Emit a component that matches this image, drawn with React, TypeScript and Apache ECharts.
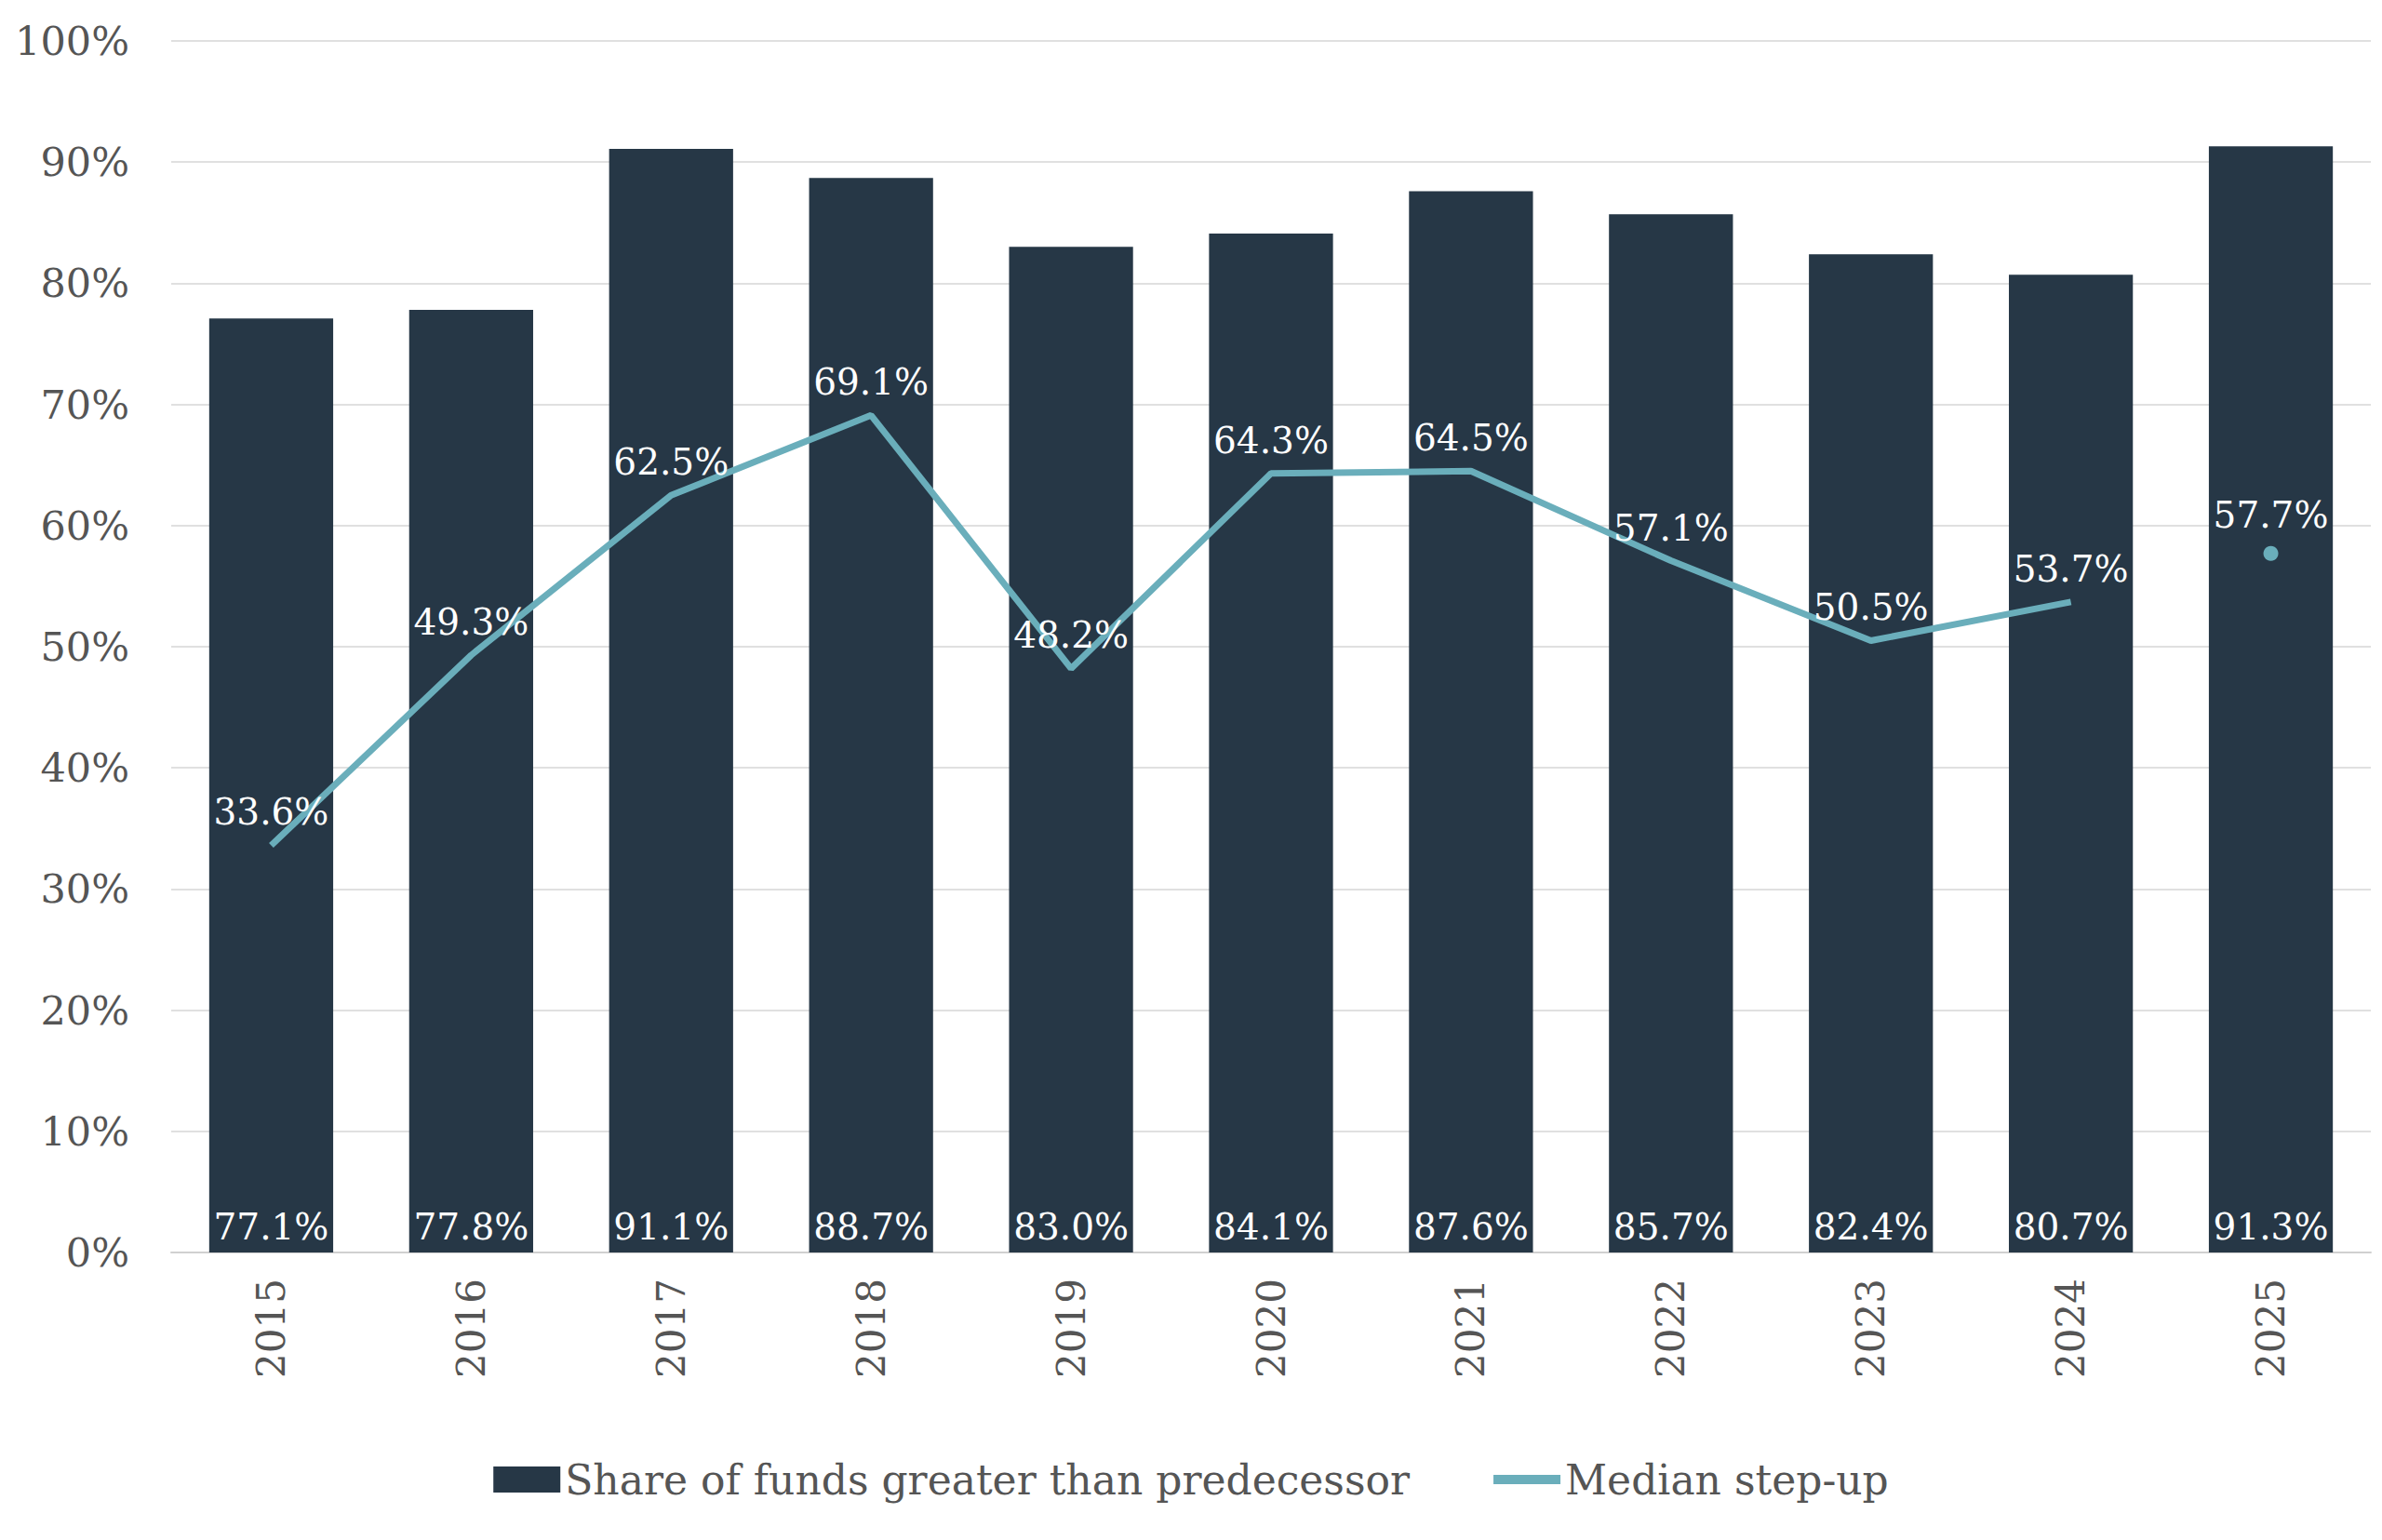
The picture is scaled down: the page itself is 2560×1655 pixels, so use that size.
import React, { useEffect, useRef } from "react";
import * as echarts from "echarts";

const years = ["2015","2016","2017","2018","2019","2020","2021","2022","2023","2024","2025"];
const shareGreater = [77.1, 77.8, 91.1, 88.7, 83.0, 84.1, 87.6, 85.7, 82.4, 80.7, 91.3];
const medianStepUp = [33.6, 49.3, 62.5, 69.1, 48.2, 64.3, 64.5, 57.1, 50.5, 53.7, null];
const medianLatest = [null, null, null, null, null, null, null, null, null, null, 57.7];

const FONT = "DejaVu Serif";

export default function App() {
  const ref = useRef<HTMLDivElement>(null);
  useEffect(() => {
    const chart = echarts.init(ref.current!, null, { renderer: "svg" });
    const lbl = {
      show: true, position: "top", color: "#ffffff", fontFamily: FONT, fontSize: 39,
      formatter: (p: any) => p.value == null ? "" : Number(p.value).toFixed(1) + "%",
    };
    chart.setOption({
      animation: false,
      textStyle: { fontFamily: FONT },
      grid: { left: 176, right: 4, top: 36, bottom: 1655 - 1346 - 8 },
      legend: {
        bottom: 30, left: "center", itemGap: 90, itemWidth: 72, itemHeight: 28,
        textStyle: { fontFamily: FONT, fontSize: 44, color: "#555" },
        data: [
          { name: "Share of funds greater than predecessor", icon: "rect" },
          { name: "Median step-up", icon: "path://M0,0 L10,0 L10,1.4 L0,1.4 Z" },
        ],
      },
      xAxis: {
        type: "category", data: years,
        axisTick: { show: false },
        axisLine: { lineStyle: { color: "#d0d0d0", width: 2 } },
        axisLabel: { rotate: 90, fontFamily: FONT, fontSize: 42, color: "#555", margin: 28 },
      },
      yAxis: {
        type: "value", min: 0, max: 100, interval: 10,
        axisLabel: { formatter: "{value}%", fontFamily: FONT, fontSize: 43, color: "#555", margin: 45 },
        splitLine: { lineStyle: { color: "#e0e0e0", width: 2 } },
      },
      series: [
        {
          name: "Share of funds greater than predecessor", type: "bar", data: shareGreater,
          barWidth: "62%", itemStyle: { color: "#263746" },
          label: { ...lbl, position: "insideBottom", distance: 8 },
        },
        {
          name: "Median step-up", type: "line", data: medianStepUp, showSymbol: true,
          symbol: "circle", symbolSize: 0.1, lineStyle: { color: "#6aaebb", width: 7 }, itemStyle: { color: "#6aaebb" },
          label: { ...lbl, distance: 16 },
        },
        {
          name: "Median latest", type: "line", data: medianLatest, symbol: "circle", symbolSize: 16,
          itemStyle: { color: "#6aaebb" }, lineStyle: { width: 0 },
          label: { ...lbl, distance: 14 },
        },
      ],
    });
    return () => chart.dispose();
  }, []);
  return <div ref={ref} style={{ width: 2544, height: 1639 }} />;
}
